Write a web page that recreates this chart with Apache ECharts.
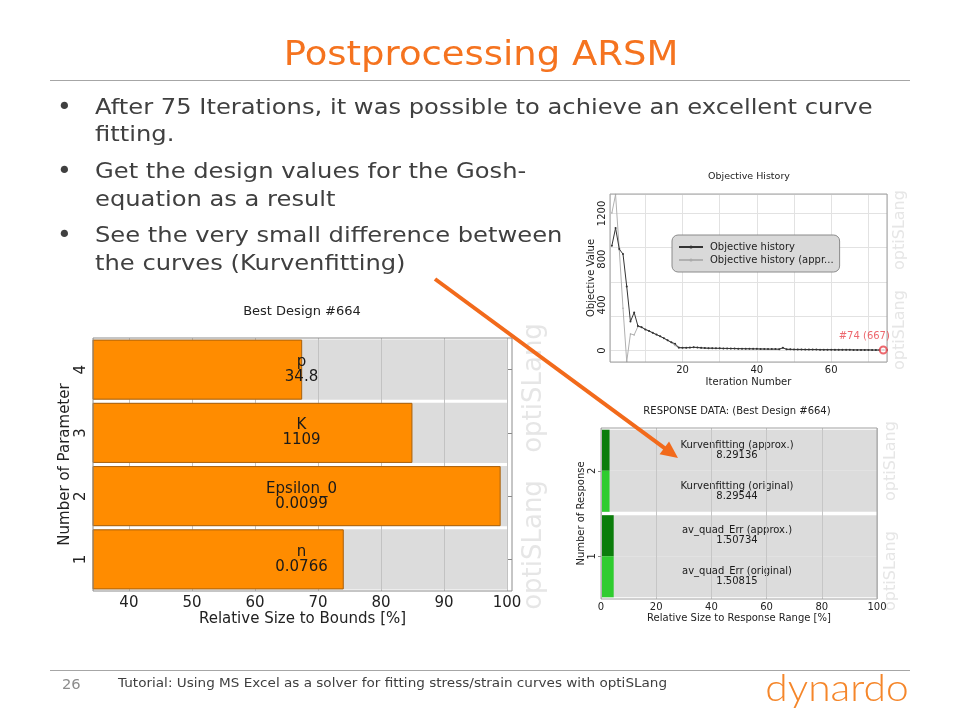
<!DOCTYPE html>
<html><head><meta charset="utf-8">
<script src="https://cdn.jsdelivr.net/npm/echarts@6/dist/echarts.min.js"></script>
<style>html,body{margin:0;padding:0;background:#fff}#c{width:960px;height:720px}</style>
</head><body><div id="c"></div>
<script>
// ---------- slide text ----------
const slideTitle = 'Postprocessing ARSM';
const bulletLines = [
  ['After 75 Iterations, it was possible to achieve an excellent curve', 'fitting.'],
  ['Get the design values for the Gosh-', 'equation as a result'],
  ['See the very small difference between', 'the curves (Kurvenfitting)']
];
const pageNumber = '26';
const footerText = 'Tutorial: Using MS Excel as a solver for fitting stress/strain curves with optiSLang';
const logoText = 'dynardo';
const watermark = 'optiSLang';

// ---------- chart 1: Best Design ----------
const bestDesignTitle = 'Best Design #664';
const paramNumbers = ['1', '2', '3', '4'];
const paramNames = ['n', 'Epsilon_0', 'K', 'p'];
const paramValues = ['0.0766', '0.0099', '1109', '34.8'];
const paramRelSize = [74.1, 99.0, 85.0, 67.5];
const paramBound = [100, 100, 100, 100];
const boundTicks = [40, 50, 60, 70, 80, 90, 100];

// ---------- chart 2: Objective History ----------
const historyTitle = 'Objective History';
const historyNames = ['Objective history', 'Objective history (approx.)'];
const historyLegendLabels = ['Objective history', 'Objective history (appr...'];
const iterations = [1,2,3,4,5,6,7,8,9,10,11,12,13,14,15,16,17,18,19,20,21,22,23,24,25,26,27,28,29,30,31,32,33,34,35,36,37,38,39,40,41,42,43,44,45,46,47,48,49,50,51,52,53,54,55,56,57,58,59,60,61,62,63,64,65,66,67,68,69,70,71,72,73,74,75];
const objectiveHistory = [917,1072,888,844,561,254,333,216,205,185,172,155,140,125,108,90,72,60,26,25,25,26,29,27,24,22,21,21,20,20,19,19,18,18,17,17,16,16,15,15,14,14,13,13,13,12,25,11,11,10,10,10,9,9,9,9,8,8,8,8,7,7,7,7,7,6,6,6,6,6,5,5,5,5,5];
const objectiveApprox = [1203,1365,880,370,-96,146,137,210,203,184,171,154,139,124,107,89,71,45,22,24,24,25,28,26,23,21,20,20,19,19,18,18,17,17,16,16,15,15,14,14,13,13,12,12,12,11,22,10,10,9,9,9,8,8,8,8,7,7,7,7,6,6,6,6,6,5,5,5,5,5,4,4,4,4,4];
const bestIteration = 74;
const bestObjective = 5;
const bestLabel = '#74 (667)';
const iterTicks = [20, 40, 60];
const objTicks = [0, 400, 800, 1200];

// ---------- chart 3: Response Data ----------
const responseTitle = 'RESPONSE DATA: (Best Design #664)';
const responseNumbers = ['1', '2'];
const responseNames = ['av_quad_Err', 'Kurvenfitting'];
const responseApproxText = ['1.50734', '8.29136'];
const responseOriginalText = ['1.50815', '8.29544'];
const responseApproxRel = [4.6, 3.1];
const responseOriginalRel = [4.6, 3.1];

// ---------- build ----------
const FONT = 'DejaVu Sans';
const chart = echarts.init(document.getElementById('c'));

const graphics = [];
function txt(x, y, text, size, color, align, extra) {
  graphics.push(Object.assign({
    type: 'text', x: x, y: y, silent: true,
    style: { text: text, font: size + 'px "' + FONT + '"', fill: color,
      textAlign: align || 'left', textVerticalAlign: 'middle' }
  }, extra || {}));
}
function hline(x1, x2, y, color) {
  graphics.push({ type: 'line', silent: true, shape: { x1: x1, y1: y, x2: x2, y2: y },
    style: { stroke: color, lineWidth: 1 } });
}
// title + rules
txt(481, 56, slideTitle, 33, '#f5731f', 'center', { scaleX: 1.12 });
hline(50, 910, 80.5, '#a6a6a6');
hline(50, 910, 670.5, '#a6a6a6');
// bullets
const bulletY = [[108, 135], [172, 200], [236, 264]];
bulletLines.forEach(function (lines, i) {
  txt(57, bulletY[i][0], '•', 25, '#404040', 'left');
  lines.forEach(function (l, j) { txt(95, bulletY[i][j], l, 22, '#404040', 'left', { scaleX: 1.1 }); });
});
// footer
txt(62, 685, pageNumber, 14, '#8c8c8c', 'left', { scaleX: 1.05 });
txt(118, 684, footerText, 11.5, '#404040', 'left', { scaleX: 1.18 });
graphics.push({ type: 'text', x: 837, y: 689, silent: true, scaleX: 1.1,
  style: { text: logoText, font: '300 37px "Lato"', fill: '#f5862a', textAlign: 'center', textVerticalAlign: 'middle' } });
// chart titles
txt(302, 312, bestDesignTitle, 13, '#222', 'center');
txt(749, 177, historyTitle, 9.5, '#222', 'center');
txt(737, 411, responseTitle, 10, '#222', 'center');
// watermarks
function wm(x, y, size) {
  graphics.push({ type: 'text', x: x, y: y, rotation: Math.PI / 2, silent: true, z: -1,
    style: { text: watermark, font: size + 'px "' + FONT + '"', fill: '#e6e6e6', textAlign: 'center', textVerticalAlign: 'middle' } });
}
wm(534, 388, 26); wm(534, 545, 26);
wm(900, 230, 16); wm(900, 330, 16);
wm(891, 461, 16); wm(891, 571, 16);
// arrow
(function () {
  const sx = 435, sy = 279, tx = 678, ty = 458;
  const L = Math.hypot(tx - sx, ty - sy), ux = (tx - sx) / L, uy = (ty - sy) / L;
  const bx = tx - 17 * ux, by = ty - 17 * uy;
  graphics.push({ type: 'line', silent: true, z: 100, shape: { x1: sx, y1: sy, x2: bx + 2 * ux, y2: by + 2 * uy },
    style: { stroke: '#f26a1b', lineWidth: 4 } });
  graphics.push({ type: 'polygon', silent: true, z: 100, shape: { points: [[tx, ty], [bx - 8 * uy, by + 8 * ux], [bx + 8 * uy, by - 8 * ux]] },
    style: { fill: '#f26a1b' } });
})();

const lblCol = '#222';
const plain = function (v) { return String(v); };
const option = {
  animation: false,
  textStyle: { fontFamily: FONT },
  graphic: graphics,
  grid: [
    { left: 93, top: 338, width: 419, height: 253, show: true, borderColor: '#8c8c8c', borderWidth: 1, z: 4 },
    { left: 610, top: 194, width: 277, height: 168, show: true, borderColor: '#a0a0a0', borderWidth: 1, z: 4 },
    { left: 601, top: 428, width: 276, height: 171, show: true, borderColor: '#a0a0a0', borderWidth: 1, z: 4 }
  ],
  legend: {
    data: historyNames, left: 672, top: 235, orient: 'vertical',
    backgroundColor: '#d9d9d9', borderColor: '#8a8a8a', borderWidth: 1, borderRadius: 6,
    padding: [7, 6, 7, 6], itemGap: 3, itemWidth: 24, itemHeight: 4,
    formatter: function (n) { return historyLegendLabels[historyNames.indexOf(n)]; },
    textStyle: { fontSize: 10, color: '#222', fontFamily: FONT, padding: [0, 0, 0, 2] }
  },
  xAxis: [
    { gridIndex: 0, type: 'value', min: 34.3, max: 100.8, z: 2,
      axisLine: { show: false },
      axisTick: { inside: true, length: 5, customValues: boundTicks, lineStyle: { color: '#888' } },
      axisLabel: { customValues: boundTicks, fontSize: 15, color: lblCol, margin: 5, formatter: plain },
      splitLine: { show: true, lineStyle: { color: '#c2c2c2' } },
      name: 'Relative Size to Bounds [%]', nameLocation: 'middle', nameGap: 21,
      nameTextStyle: { fontSize: 15, color: lblCol } },
    { gridIndex: 0, type: 'value', position: 'top', min: 34.3, max: 100.8,
      axisLine: { show: false },
      axisTick: { inside: true, length: 5, customValues: boundTicks, lineStyle: { color: '#888' } },
      axisLabel: { show: false }, splitLine: { show: false } },
    { gridIndex: 1, type: 'value', min: 0.5, max: 75,
      axisLine: { show: false }, axisTick: { show: false },
      axisLabel: { customValues: iterTicks, fontSize: 10, color: lblCol, margin: 3, formatter: plain },
      splitLine: { show: true, lineStyle: { color: '#e2e2e2' } },
      name: 'Iteration Number', nameLocation: 'middle', nameGap: 15,
      nameTextStyle: { fontSize: 10, color: lblCol } },
    { gridIndex: 2, type: 'value', min: 0, max: 100, interval: 20, z: 3,
      axisLine: { show: false }, axisTick: { show: false },
      axisLabel: { fontSize: 10, color: lblCol, margin: 3, formatter: plain },
      splitLine: { show: true, lineStyle: { color: '#c6c6c6' } },
      name: 'Relative Size to Response Range [%]', nameLocation: 'middle', nameGap: 14,
      nameTextStyle: { fontSize: 10, color: lblCol } }
  ],
  yAxis: [
    { gridIndex: 0, type: 'category', data: paramNumbers,
      axisLine: { show: false },
      axisTick: { show: true, inside: true, alignWithLabel: true, length: 5, lineStyle: { color: '#888' } },
      axisLabel: { rotate: 90, fontSize: 15, color: lblCol, margin: 4 },
      name: 'Number of Parameter', nameLocation: 'middle', nameGap: 12,
      nameTextStyle: { fontSize: 15, color: lblCol } },
    { gridIndex: 0, type: 'category', data: paramNumbers, position: 'right',
      axisLine: { show: false },
      axisTick: { show: true, inside: true, alignWithLabel: true, length: 5, lineStyle: { color: '#888' } },
      axisLabel: { show: false } },
    { gridIndex: 1, type: 'value', min: -100, max: 1370,
      axisLine: { show: false }, axisTick: { show: false },
      axisLabel: { customValues: objTicks, rotate: 90, fontSize: 10, color: lblCol, margin: 3, formatter: plain },
      splitLine: { show: true, lineStyle: { color: '#e2e2e2' } },
      name: 'Objective Value', nameLocation: 'middle', nameGap: 9,
      nameTextStyle: { fontSize: 10, color: lblCol } },
    { gridIndex: 2, type: 'category', data: responseNumbers,
      axisLine: { show: false },
      axisTick: { show: true, alignWithLabel: true, length: 3, lineStyle: { color: '#888' } },
      axisLabel: { rotate: 90, fontSize: 10, color: lblCol, margin: 4 },
      name: 'Number of Response', nameLocation: 'middle', nameGap: 11,
      nameTextStyle: { fontSize: 10, color: lblCol } }
  ],
  series: [
    { type: 'bar', name: 'bounds', xAxisIndex: 0, yAxisIndex: 0, data: paramBound, z: 1,
      barCategoryGap: '5%', barGap: '-100%', silent: true,
      itemStyle: { color: '#dcdcdc' } },
    { type: 'bar', name: 'relsize', xAxisIndex: 0, yAxisIndex: 0, data: paramRelSize, z: 3,
      barCategoryGap: '5%', barGap: '-100%',
      itemStyle: { color: '#ff8c00', borderColor: '#a8600c', borderWidth: 1 },
      label: { show: true, position: [209, '50%'], align: 'center', verticalAlign: 'middle',
        fontSize: 15, lineHeight: 15, color: '#1a1a1a',
        formatter: function (p) { return paramNames[p.dataIndex] + '\n' + paramValues[p.dataIndex]; } } },
    { type: 'line', name: historyNames[0], xAxisIndex: 2, yAxisIndex: 2, z: 3,
      data: iterations.map(function (x, i) { return [x, objectiveHistory[i]]; }),
      symbol: 'circle', symbolSize: 2, itemStyle: { color: '#333' }, lineStyle: { color: '#333', width: 1 } },
    { type: 'line', name: historyNames[1], xAxisIndex: 2, yAxisIndex: 2, z: 2,
      data: iterations.map(function (x, i) { return [x, objectiveApprox[i]]; }),
      symbol: 'circle', symbolSize: 1.5, itemStyle: { color: '#aaa' }, lineStyle: { color: '#b0b0b0', width: 1 } },
    { type: 'scatter', name: 'best', xAxisIndex: 2, yAxisIndex: 2, z: 4,
      data: [[bestIteration, bestObjective]], symbol: 'emptyCircle', symbolSize: 7,
      itemStyle: { color: '#e8424a', borderColor: '#e8424a', borderWidth: 1 },
      label: { show: true, formatter: bestLabel, position: 'top', offset: [-19, 1], fontSize: 10, color: '#e8424a' } },
    { type: 'bar', name: 'approx', xAxisIndex: 3, yAxisIndex: 3, data: responseApproxRel,
      barCategoryGap: '4%', barGap: '0%', showBackground: true, backgroundStyle: { color: '#dcdcdc' },
      itemStyle: { color: '#0b7d0b' },
      label: { show: true, position: [136, '50%'], align: 'center', verticalAlign: 'middle',
        fontSize: 10, lineHeight: 10, color: '#1a1a1a',
        formatter: function (p) { return responseNames[p.dataIndex] + ' (approx.)\n' + responseApproxText[p.dataIndex]; } } },
    { type: 'bar', name: 'original', xAxisIndex: 3, yAxisIndex: 3, data: responseOriginalRel,
      barCategoryGap: '4%', barGap: '0%', showBackground: true, backgroundStyle: { color: '#dcdcdc' },
      itemStyle: { color: '#2fcc2f' },
      label: { show: true, position: [136, '50%'], align: 'center', verticalAlign: 'middle',
        fontSize: 10, lineHeight: 10, color: '#1a1a1a',
        formatter: function (p) { return responseNames[p.dataIndex] + ' (original)\n' + responseOriginalText[p.dataIndex]; } } }
  ]
};
chart.setOption(option);
</script></body></html>
